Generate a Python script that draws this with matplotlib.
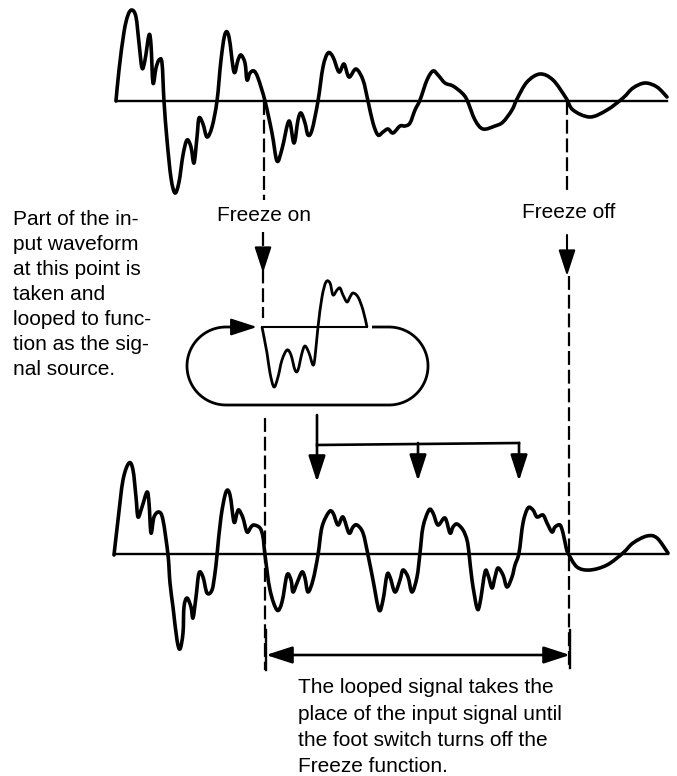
import numpy as np
import matplotlib
matplotlib.use("Agg")
import matplotlib.pyplot as plt
from matplotlib.path import Path
from matplotlib.patches import PathPatch

plt.rcParams['font.family'] = ['Liberation Sans Narrow', 'Liberation Sans', 'DejaVu Sans']
plt.rcParams['lines.scale_dashes'] = False

W, H = 677, 776

# waveform points, (x, y) in pixels with y pointing down
top_wave = np.array([
    (116, 101), (119, 70), (124, 32), (128, 15), (132, 10), (136, 17), (139, 43), (142, 68),
    (145, 60), (149, 35), (151, 45), (153, 83), (156, 68), (159, 60), (162, 63), (164, 101),
    (167, 140), (171, 178), (175, 193), (179, 182), (183, 155), (187, 140), (191, 147), (194, 163),
    (197, 137), (199, 118), (203, 124), (207, 137), (212, 127), (217, 101), (221, 60), (225, 34),
    (229, 37), (234, 72), (238, 60), (241, 55), (245, 63), (247, 80), (250, 73), (254, 71),
    (258, 78), (265, 101), (272, 133), (277, 161), (282, 149), (289, 121), (294, 143), (298, 120),
    (301, 113), (305, 123), (308, 135), (312, 130), (318, 101), (323, 67), (328, 53), (333, 57),
    (339, 72), (344, 64), (349, 77), (356, 69), (363, 80), (368, 101), (373, 123), (378, 135),
    (383, 132), (388, 129), (393, 133), (400, 126), (405, 126), (410, 123), (415, 110), (420, 100),
    (427, 80), (433, 71), (438, 75), (445, 83), (453, 86), (462, 93), (467, 100), (475, 120),
    (483, 129), (495, 126), (503, 122), (512, 110), (517, 99), (527, 82), (540, 74), (553, 80),
    (566, 98), (573, 110), (590, 117), (607, 110), (623, 98), (633, 88), (645, 83), (657, 87),
    (667, 97),
])

loop_wave = np.array([
    (262, 327), (267, 353), (270, 373), (274, 387), (278, 377), (282, 360), (287, 350), (291, 355),
    (295, 370), (298, 370), (302, 353), (305, 346), (309, 353), (313, 365), (315, 357), (318, 327),
    (322, 297), (326, 282), (330, 283), (333, 295), (337, 290), (340, 288), (343, 295), (347, 302),
    (350, 297), (353, 293), (358, 297), (363, 310), (367, 327),
])

bottom_wave = np.array([
    (114, 555), (118, 520), (123, 480), (129, 463), (133, 470), (136, 497), (138, 517), (142, 507),
    (147, 492), (149, 503), (151, 533), (154, 517), (159, 512), (163, 520), (168, 555), (170, 583),
    (173, 607), (177, 640), (180, 649), (183, 633), (184, 607), (187, 598), (191, 607), (193, 618),
    (196, 597), (199, 573), (203, 577), (207, 593), (212, 590), (215, 573), (217, 555), (221, 517),
    (226, 492), (230, 495), (234, 522), (237, 513), (239, 510), (243, 518), (247, 532), (251, 527),
    (254, 525), (260, 528), (263, 537), (265, 555), (270, 590), (277, 610), (282, 602), (287, 575),
    (291, 580), (293, 592), (297, 583), (302, 572), (305, 578), (308, 592), (313, 580), (318, 555),
    (322, 527), (329, 512), (333, 513), (338, 525), (343, 517), (349, 533), (353, 527), (357, 525),
    (363, 533), (368, 555), (373, 580), (379, 610), (383, 600), (387, 575), (390, 577), (395, 592),
    (400, 580), (403, 570), (408, 577), (412, 592), (417, 577), (420, 553), (423, 527), (429, 510),
    (433, 513), (438, 525), (445, 518), (450, 533), (453, 527), (457, 524), (463, 530), (467, 540),
    (469, 553), (472, 580), (477, 608), (480, 603), (485, 572), (488, 575), (492, 588), (495, 577),
    (498, 568), (503, 575), (507, 587), (512, 577), (515, 565), (519, 553), (523, 523), (528, 508),
    (533, 510), (537, 517), (543, 515), (547, 523), (552, 532), (555, 527), (560, 525), (563, 533),
    (566, 547), (568, 553), (577, 567), (590, 570), (607, 565), (623, 553), (633, 543), (647, 536),
    (657, 538), (668, 553),
])

left_lines = ["Part of the in-", "put waveform", "at this point is", "taken and",
              "looped to func-", "tion as the sig-", "nal source."]
bottom_lines = ["The looped signal takes the", "place of the input signal until",
                "the foot switch turns off the", "Freeze function."]
freeze_on_x = 264
freeze_off_x = 567
tap_x = [317, 418, 519]


def smooth_path(pts):
    # catmull-rom through the read points, handed to matplotlib as cubic beziers
    p = pts.astype(float)
    pad = np.vstack([p[0], p, p[-1]])
    verts = [p[0]]
    codes = [Path.MOVETO]
    for i in range(1, len(pad) - 2):
        p0, p1, p2, p3 = pad[i - 1], pad[i], pad[i + 1], pad[i + 2]
        verts += [p1 + (p2 - p0) / 6, p2 - (p3 - p1) / 6, p2]
        codes += [Path.CURVE4] * 3
    return Path(verts, codes)


def arrow(ax, start, tip, style='-|>', lw=1.6):
    ax.annotate('', xy=tip, xytext=start,
                arrowprops=dict(arrowstyle=style + ',head_length=0.8,head_width=0.26',
                                mutation_scale=20, lw=lw, color='black',
                                shrinkA=0, shrinkB=0))


fig = plt.figure(figsize=(W / 100, H / 100), dpi=100)
ax = fig.add_axes([0, 0, 1, 1])
ax.set_xlim(0, W)
ax.set_ylim(H, 0)
ax.axis('off')

wave_kw = dict(facecolor='none', edgecolor='black', lw=2.6, joinstyle='round', capstyle='round')
dash_kw = dict(color='black', lw=1.6, dashes=(10, 3.5))

# input waveform
ax.plot([top_wave[0, 0], top_wave[-1, 0]], [101, 101], color='black', lw=1.7)
ax.add_patch(PathPatch(smooth_path(top_wave), **wave_kw))

# output waveform
ax.plot([bottom_wave[0, 0], bottom_wave[-1, 0]], [554, 554], color='black', lw=1.7)
ax.add_patch(PathPatch(smooth_path(bottom_wave), **wave_kw))

# looped piece
ax.plot([loop_wave[0, 0], loop_wave[-1, 0]], [327, 327], color='black', lw=1.5)
ax.add_patch(PathPatch(smooth_path(loop_wave), facecolor='none', edgecolor='black', lw=2.0,
                       joinstyle='round'))

# loop outline (stadium, open at the top between arrow and right arc)
r = 39
lcx, rcx, cy = 226, 389, 366
t1 = np.linspace(-np.pi / 2, np.pi / 2, 60)
t2 = np.linspace(np.pi / 2, 3 * np.pi / 2, 60)
lx = np.concatenate([[372], rcx + r * np.cos(t1), lcx + r * np.cos(t2), [232]])
ly = np.concatenate([[327], cy + r * np.sin(t1), cy + r * np.sin(t2), [327]])
ax.plot(lx, ly, color='black', lw=2.0, solid_capstyle='butt')
arrow(ax, (230, 327), (257, 327))

# Freeze on marker
ax.plot([freeze_on_x, freeze_on_x], [101, 200], **dash_kw)
ax.plot([freeze_on_x - 1, freeze_on_x - 1], [232, 318], **dash_kw)
arrow(ax, (freeze_on_x - 1, 249), (freeze_on_x - 1, 273), lw=1.5)
ax.plot([freeze_on_x + 1, freeze_on_x + 1], [418, 670], **dash_kw)

# Freeze off marker
ax.plot([freeze_off_x, freeze_off_x], [101, 192], **dash_kw)
arrow(ax, (freeze_off_x, 235), (freeze_off_x, 276), lw=1.5)
ax.plot([freeze_off_x + 2, freeze_off_x + 2], [276, 668], **dash_kw)

# loop output taps
ax.plot([tap_x[0], tap_x[-1]], [445, 443], color='black', lw=1.9)
arrow(ax, (tap_x[0], 415), (tap_x[0], 482), lw=1.9)
for x in tap_x[1:]:
    arrow(ax, (x, 443), (x, 481), lw=1.9)

# span of the looped signal
arrow(ax, (freeze_on_x + 2, 655), (freeze_off_x + 3, 655), style='<|-|>', lw=1.9)
ax.plot([freeze_on_x + 2, freeze_on_x + 2], [630, 670], color='black', lw=1.7)
ax.plot([freeze_off_x + 3, freeze_off_x + 3], [630, 668], color='black', lw=1.7)

# labels
txt = dict(fontsize=15, color='black', va='baseline')
ax.text(freeze_on_x, 221, "Freeze on", ha='center', **txt)
ax.text(freeze_off_x + 2, 218, "Freeze off", ha='center', **txt)
for i, s in enumerate(left_lines):
    ax.text(13, 225 + 25 * i, s, ha='left', **txt)
for i, s in enumerate(bottom_lines):
    ax.text(298, 693 + 26.5 * i, s, ha='left', **txt)

fig.savefig("out.png", dpi=100)
